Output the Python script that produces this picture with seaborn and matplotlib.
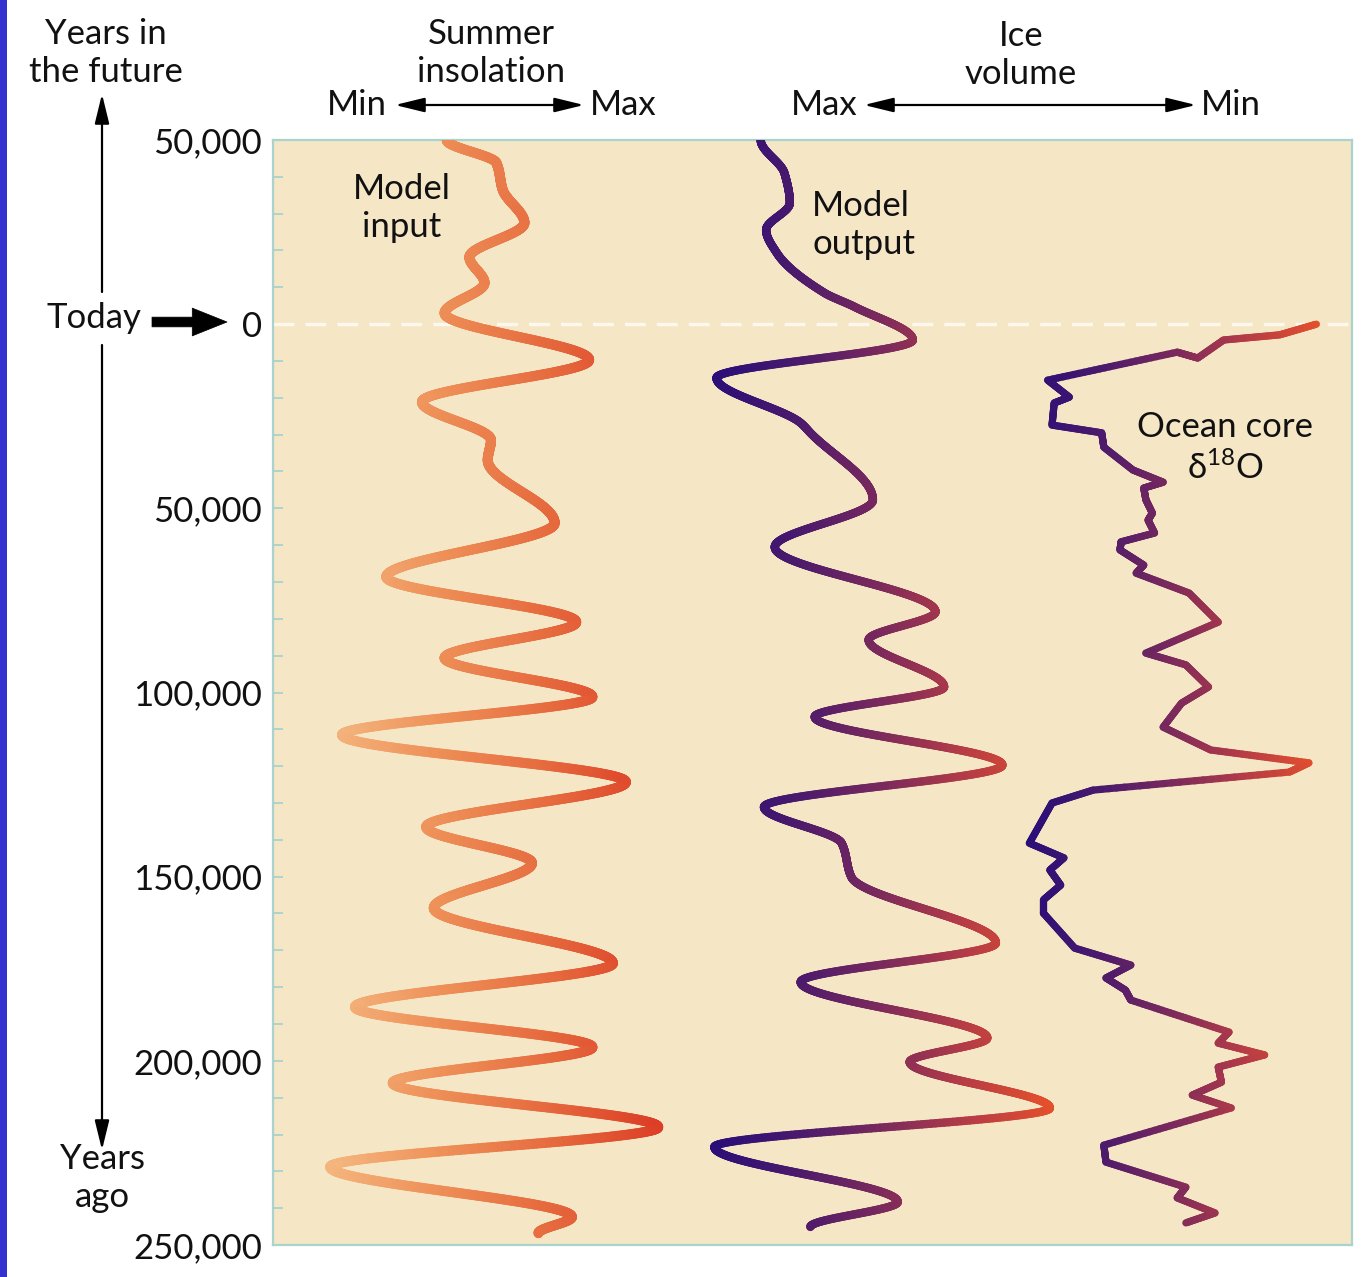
import numpy as np
import matplotlib
matplotlib.use("Agg")
import matplotlib.pyplot as plt
import seaborn as sns
from matplotlib.collections import LineCollection
from matplotlib.patches import Rectangle, FancyArrowPatch
from matplotlib.ticker import FixedLocator, MultipleLocator, FuncFormatter

# ---------------------------------------------------------------------------
# Data: time in thousands of years (negative = future), position across the
# panel in relative units (0 = left edge, 100 = right edge).
# ---------------------------------------------------------------------------
insolation_kyr = [-50.0, -43.8, -36.4, -27.5, -18.2, -11.2, -3.0, 9.7, 21.1,
                  31.5, 36.9, 54.0, 68.6, 80.9, 90.6, 101.2, 111.5, 124.3,
                  136.5, 146.3, 158.5, 173.5, 185.4, 196.3, 206.0, 218.0,
                  228.8, 242.4, 246.8]
insolation_pos = [16.1, 20.7, 21.3, 23.3, 18.2, 19.6, 15.9, 29.3, 13.8,
                  20.2, 19.9, 26.1, 10.5, 28.1, 15.9, 29.6, 6.4, 32.7,
                  14.2, 24.0, 14.9, 31.5, 7.6, 29.6, 11.1, 35.7,
                  5.3, 27.7, 24.6]

ice_model_kyr = [-50.0, -41.0, -32.9, -25.6, -19.3, -8.5, -4.7, 4.3, 14.6,
                 26.8, 29.5, 47.7, 60.5, 78.1, 85.7, 98.5, 106.6, 119.7,
                 131.1, 140.9, 150.1, 168.0, 178.6, 193.8, 200.3, 212.8,
                 223.4, 238.3, 245.1]
ice_model_pos = [45.2, 47.4, 47.9, 45.7, 46.7, 51.1, 53.9, 59.3, 41.1,
                 48.9, 49.8, 55.6, 46.5, 61.4, 55.2, 62.2, 50.2, 67.6,
                 45.5, 52.7, 53.6, 67.0, 48.9, 66.2, 59.0, 72.0,
                 40.9, 57.9, 49.8]

core_kyr = [0.0, 2.9, 4.3, 9.2, 7.6, 15.2, 19.8, 21.4, 27.4, 29.5, 33.4,
            39.6, 42.9, 44.5, 47.7, 51.3, 53.2, 56.7, 59.1, 61.3, 65.4,
            67.6, 73.0, 80.9, 89.3, 92.5, 98.5, 102.9, 109.4, 115.6, 119.1,
            121.6, 126.5, 130.0, 140.9, 144.9, 148.2, 152.3, 156.3, 159.9,
            169.4, 174.0, 177.5, 180.8, 183.5, 192.2, 195.2, 198.4, 201.7,
            205.8, 209.3, 212.8, 222.9, 227.5, 234.3, 237.2, 241.3, 244.0]
core_pos = [96.7, 93.3, 88.1, 85.7, 83.8, 71.8, 73.8, 72.4, 72.2, 76.8, 77.0,
            79.7, 82.5, 80.7, 80.9, 81.5, 81.1, 81.7, 78.6, 78.5, 80.7,
            80.0, 84.9, 87.6, 80.9, 84.6, 86.7, 84.2, 82.5, 86.9, 96.0,
            94.2, 76.0, 72.2, 70.1, 73.3, 72.0, 73.0, 71.4, 71.4,
            74.3, 79.5, 77.2, 79.0, 79.5, 88.6, 87.6, 91.9, 87.6,
            87.9, 85.2, 88.8, 77.0, 77.2, 84.6, 83.8, 87.3, 84.6]

year_ticks = [-50000, 0, 50000, 100000, 150000, 200000, 250000]

# ---------------------------------------------------------------------------
sns.set_theme(style="white")
plt.rcParams["font.family"] = ["Lato", "DejaVu Sans"]
plt.rcParams["mathtext.fontset"] = "custom"
plt.rcParams["mathtext.rm"] = "Lato"
plt.rcParams["mathtext.it"] = "Lato:italic"
plt.rcParams["mathtext.default"] = "regular"
plt.rcParams["lines.scale_dashes"] = False

W, H = 1369, 1277
fig = plt.figure(figsize=(W / 100, H / 100), dpi=100, facecolor="white")


def P(px, py):
    """Figure-fraction position from a pixel location measured from the top-left."""
    return (px / W, 1 - py / H)


ax_left, ax_top, ax_right, ax_bottom = 273, 140, 1352, 1245
ax = fig.add_axes([ax_left / W, 1 - ax_bottom / H,
                   (ax_right - ax_left) / W, (ax_bottom - ax_top) / H])
ax.set_facecolor("#f5e6c6")

teal = "#a9d3cd"
for sp in ax.spines.values():
    sp.set_color(teal)
    sp.set_linewidth(1.6)
    sp.set_visible(True)

ax.set_xlim(0, 100)
ax.set_ylim(250000, -50000)
ax.yaxis.set_major_locator(FixedLocator(year_ticks))
ax.yaxis.set_minor_locator(MultipleLocator(10000))
ax.yaxis.set_major_formatter(FuncFormatter(lambda v, _: f"{abs(int(round(v))):,}"))
ax.tick_params(axis="y", which="both", direction="in", color=teal,
               length=7, width=1.3, labelsize=25, pad=8, left=True,
               labelcolor="#111111")
ax.tick_params(axis="x", bottom=False, labelbottom=False)
ax.grid(False)

# "Today" reference line
ax.axhline(0, color="#fcf8ee", lw=2.4, dashes=(15, 8), zorder=1)


def pchip(t, x, tt):
    """Shape-preserving cubic Hermite curve through (t, x) evaluated at tt."""
    t = np.asarray(t, float)
    x = np.asarray(x, float)
    h = np.diff(t)
    d = np.diff(x) / h
    n = len(t)
    m = np.zeros(n)
    for k in range(1, n - 1):
        if d[k - 1] * d[k] <= 0:
            m[k] = 0.0
        else:
            w1 = 2 * h[k] + h[k - 1]
            w2 = h[k] + 2 * h[k - 1]
            m[k] = (w1 + w2) / (w1 / d[k - 1] + w2 / d[k])
    idx = np.clip(np.searchsorted(t, tt) - 1, 0, n - 2)
    s = (tt - t[idx]) / h[idx]
    h00 = 2 * s**3 - 3 * s**2 + 1
    h10 = s**3 - 2 * s**2 + s
    h01 = -2 * s**3 + 3 * s**2
    h11 = s**3 - s**2
    return (h00 * x[idx] + h10 * h[idx] * m[idx]
            + h01 * x[idx + 1] + h11 * h[idx] * m[idx + 1])


def gradient_curve(kyr, pos, cmap, lw, smooth=True):
    yrs = np.asarray(kyr, float) * 1000
    pos = np.asarray(pos, float)
    if smooth:
        tt = np.linspace(yrs[0], yrs[-1], 3000)
        xx = pchip(yrs, pos, tt)
    else:
        tt_parts, xx_parts = [], []
        for i in range(len(yrs) - 1):
            f = np.linspace(0, 1, 25, endpoint=False)
            tt_parts.append(yrs[i] + f * (yrs[i + 1] - yrs[i]))
            xx_parts.append(pos[i] + f * (pos[i + 1] - pos[i]))
        tt = np.concatenate(tt_parts + [[yrs[-1]]])
        xx = np.concatenate(xx_parts + [[pos[-1]]])
    pts = np.column_stack([xx, tt])
    segs = np.stack([pts[:-1], pts[1:]], axis=1)
    lc = LineCollection(segs, cmap=cmap, norm=plt.Normalize(pos.min(), pos.max()),
                        linewidths=lw, capstyle="round", joinstyle="round", zorder=3)
    lc.set_array((xx[:-1] + xx[1:]) / 2)
    ax.add_collection(lc)


warm = sns.blend_palette(["#f4b67e", "#ee9058", "#e66a3e", "#dc3e26"], as_cmap=True)
ice = sns.blend_palette(["#2a0e78", "#4b1a6c", "#7c2a5c", "#b63c46", "#e4502c"],
                        as_cmap=True)

gradient_curve(insolation_kyr, insolation_pos, warm, 7.2)
gradient_curve(ice_model_kyr, ice_model_pos, ice, 6.0)
gradient_curve(core_kyr, core_pos, ice, 5.2, smooth=False)

# In-panel labels
txt = dict(fontsize=25, color="#111111", linespacing=1.25)
fig.text(*P(402, 208), "Model\ninput", ha="center", va="center", **txt)
fig.text(*P(812, 225), "Model\noutput", ha="left", va="center", **txt)
fig.text(*P(1225, 448), "Ocean core\nδ$^{18}$O", ha="center", va="center", **txt)

# Column headings
fig.text(*P(106, 53), "Years in\nthe future", ha="center", va="center", **txt)
fig.text(*P(491, 53), "Summer\ninsolation", ha="center", va="center", **txt)
fig.text(*P(1021, 55), "Ice\nvolume", ha="center", va="center", **txt)
fig.text(*P(387, 105), "Min", ha="right", va="center", **txt)
fig.text(*P(590, 105), "Max", ha="left", va="center", **txt)
fig.text(*P(858, 105), "Max", ha="right", va="center", **txt)
fig.text(*P(1201, 105), "Min", ha="left", va="center", **txt)
fig.text(*P(141, 318), "Today", ha="right", va="center", **txt)
fig.text(*P(102, 1178), "Years\nago", ha="center", va="center", **txt)


def fig_arrow(p0, p1, style, scale, lw=1.6):
    fig.add_artist(FancyArrowPatch(P(*p0), P(*p1), transform=fig.transFigure,
                                   arrowstyle=style, mutation_scale=scale,
                                   lw=lw, color="black", shrinkA=0, shrinkB=0))


fig_arrow((102, 292), (102, 94), "-|>,head_length=0.9,head_width=0.22", 20)
fig_arrow((102, 345), (102, 1150), "-|>,head_length=0.9,head_width=0.22", 20)
fig_arrow((395, 105), (584, 105), "<|-|>,head_length=0.9,head_width=0.22", 20)
fig_arrow((864, 105), (1196, 105), "<|-|>,head_length=0.9,head_width=0.22", 20)
fig_arrow((152, 322), (227, 322),
          "simple,head_length=1.0,head_width=0.8,tail_width=0.28", 25, lw=0.5)

# Blue edge strip
fig.add_artist(Rectangle((0, 0), 7 / W, 1, transform=fig.transFigure,
                         facecolor="#3530d0", edgecolor="none"))

fig.savefig("out.png", dpi=100, facecolor="white")
